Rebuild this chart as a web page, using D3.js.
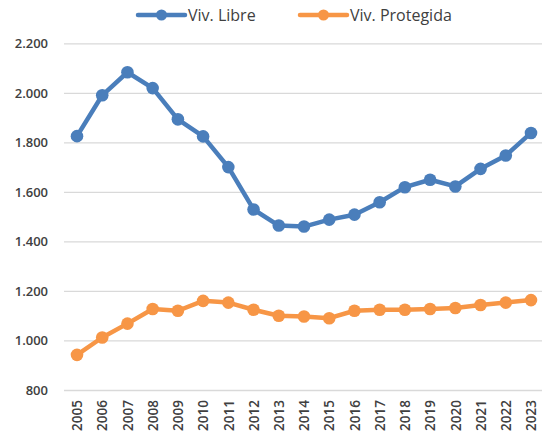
<!DOCTYPE html>
<html>
<head>
<meta charset="utf-8">
<script src="https://cdn.jsdelivr.net/npm/d3@7"></script>
<style>
  html, body { margin: 0; padding: 0; background: #fff; }
  svg { display: block; }
  text { font-family: "Open Sans", "Noto Sans", sans-serif; fill: #404040; }
</style>
</head>
<body>
<svg id="chart" width="542" height="441"></svg>
<script>
// Years on the horizontal axis
const years = ["2005","2006","2007","2008","2009","2010","2011","2012","2013","2014",
               "2015","2016","2017","2018","2019","2020","2021","2022","2023"];

// Series values
const libre = [1825, 1990, 2083, 2019, 1893, 1824, 1700, 1529, 1464, 1460,
               1488, 1508, 1558, 1619, 1649, 1622, 1693, 1747, 1838];
const protegida = [942, 1012, 1068, 1127, 1120, 1160, 1153, 1124, 1100, 1097,
                   1090, 1120, 1124, 1124, 1127, 1131, 1143, 1153, 1163];

const seriesNames = ["Viv. Libre", "Viv. Protegida"];
const seriesColors = ["#4a7ebb", "#f79646"];

// Y axis ticks
const yTicks = [800, 1000, 1200, 1400, 1600, 1800, 2000, 2200];

const svg = d3.select("#chart");
const fmt = v => d3.format(",")(v).replace(/,/g, ".");

const x = d3.scalePoint().domain(years).range([77, 531]);
const y = d3.scaleLinear().domain([800, 2200]).range([390, 43.3]);

// Gridlines and y-axis labels
const yAxis = d3.axisLeft(y).tickValues(yTicks).tickFormat(fmt).tickSize(-478).tickPadding(16);
const gy = svg.append("g").attr("transform", "translate(64,0)").call(yAxis);
gy.select(".domain").remove();
gy.selectAll(".tick line").attr("stroke", "#d9d9d9").attr("stroke-width", 1.3);
gy.selectAll(".tick text").attr("font-size", 13).attr("font-weight", 600).style("fill", "#404040");

// X-axis labels, rotated
const xAxis = d3.axisBottom(x).tickSize(0).tickPadding(0);
const gx = svg.append("g").attr("transform", "translate(0,390)").call(xAxis);
gx.select(".domain").remove();
gx.selectAll(".tick text")
  .attr("font-size", 13.5)
  .attr("font-weight", 600)
  .style("fill", "#404040")
  .attr("text-anchor", "end")
  .attr("transform", "rotate(-90)")
  .attr("x", -10)
  .attr("y", 0)
  .attr("dy", "0.35em");

// Lines and markers
const line = d3.line().x((d, i) => x(years[i])).y(d => y(d));
[libre, protegida].forEach((vals, k) => {
  svg.append("path")
    .datum(vals)
    .attr("d", line)
    .attr("fill", "none")
    .attr("stroke", seriesColors[k])
    .attr("stroke-width", 4.5)
    .attr("stroke-linejoin", "round");
  svg.append("g").selectAll("circle")
    .data(vals)
    .join("circle")
    .attr("cx", (d, i) => x(years[i]))
    .attr("cy", d => y(d))
    .attr("r", 6.3)
    .attr("fill", seriesColors[k]);
});

// Legend
const legendX = [138, 300];
seriesNames.forEach((name, k) => {
  const g = svg.append("g").attr("transform", `translate(${legendX[k]},15)`);
  g.append("line").attr("x1", 0).attr("x2", 47).attr("y1", 0).attr("y2", 0)
    .attr("stroke", seriesColors[k]).attr("stroke-width", 4.5).attr("stroke-linecap", "round");
  g.append("circle").attr("cx", 23.5).attr("cy", 0).attr("r", 5.5).attr("fill", seriesColors[k]);
  g.append("text").attr("x", 50).attr("y", 0).attr("dy", "0.35em")
    .attr("font-size", 16).text(name);
});
</script>
</body>
</html>
